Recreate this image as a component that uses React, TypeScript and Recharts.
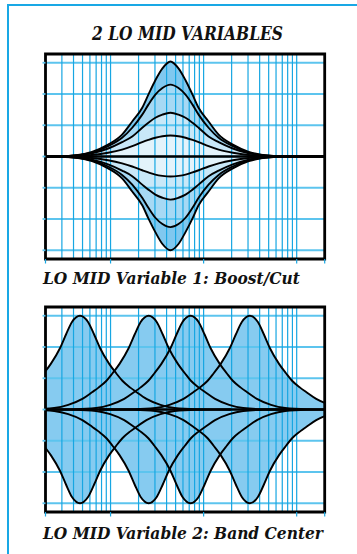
import React from 'react';
import { ComposedChart, Area, Line, XAxis, YAxis, CartesianGrid, ReferenceLine, ReferenceArea } from 'recharts';

// frequency grid (Hz), log axis
const FREQ_DOMAIN = [20, 20000];
const GRID_FREQS = [20, 30, 40, 50, 60, 70, 80, 90, 100, 200, 300, 400, 500, 600, 700, 800, 900, 1000,
  2000, 3000, 4000, 5000, 6000, 7000, 8000, 9000, 10000, 20000];
const MAJOR_FREQS = [20, 100, 1000, 10000, 20000];
const GAIN_TICKS = [-15, -10, -5, 0, 5, 10, 15];
const GAIN_DOMAIN = [-16.4, 16.4];

// chart 1: boost / cut around ~440 Hz
const BC_FREQS = [20, 28.5, 41.4, 63.2, 94.2, 133, 171, 219, 255, 303, 361, 440, 537, 639, 760, 883, 1130, 1450, 2060, 3060, 4670, 6780, 20000];
const BOOST_15 = [0, 0, 0.16, 0.75, 1.9, 3.5, 5.6, 7.8, 9.9, 12.2, 14.1, 15.2, 14.1, 12.2, 9.9, 7.8, 5.6, 3.5, 1.9, 0.75, 0.16, 0, 0];
const BOOST_11 = [0, 0.03, 0.15, 0.6, 1.65, 3.0, 4.6, 6.7, 8.3, 9.9, 10.95, 11.5, 10.95, 9.9, 8.3, 6.7, 4.6, 3.0, 1.65, 0.6, 0.15, 0.03, 0];
const BOOST_7 = [0, 0.03, 0.15, 0.5, 1.28, 2.3, 3.2, 4.6, 5.4, 6.2, 6.7, 7.0, 6.7, 6.2, 5.4, 4.6, 3.2, 2.3, 1.28, 0.5, 0.15, 0.03, 0];
const BOOST_3 = [0, 0.02, 0.08, 0.24, 0.6, 1.1, 1.65, 2.3, 2.65, 3.0, 3.25, 3.35, 3.25, 3.0, 2.65, 2.3, 1.65, 1.1, 0.6, 0.24, 0.08, 0.02, 0];
const CUT_3 = [0, -0.02, -0.08, -0.24, -0.6, -1.1, -1.6, -2.2, -2.55, -2.9, -3.1, -3.2, -3.1, -2.9, -2.55, -2.2, -1.6, -1.1, -0.6, -0.24, -0.08, -0.02, 0];
const CUT_7 = [0, -0.03, -0.15, -0.5, -1.26, -2.25, -3.15, -4.5, -5.3, -6.1, -6.6, -6.9, -6.6, -6.1, -5.3, -4.5, -3.15, -2.25, -1.26, -0.5, -0.15, -0.03, 0];
const CUT_11 = [0, -0.03, -0.15, -0.6, -1.6, -2.95, -4.5, -6.6, -8.2, -9.8, -10.8, -11.3, -10.8, -9.8, -8.2, -6.6, -4.5, -2.95, -1.6, -0.6, -0.15, -0.03, 0];
const CUT_15 = [0, 0, -0.16, -0.75, -1.9, -3.5, -5.6, -7.8, -9.9, -12.1, -14.0, -15.0, -14.0, -12.1, -9.9, -7.8, -5.6, -3.5, -1.9, -0.75, -0.16, 0, 0];

// chart 2: band centre sweep, same bell at four centres
const BAND_BOOST = [0, 0.05, 0.25, 0.75, 1.7, 2.8, 3.5, 4.6, 5.8, 7.3, 9.8, 12, 14, 15, 14, 12, 9.8, 7.3, 5.8, 4.6, 3.5, 2.8, 1.7, 0.75, 0.25, 0.05, 0];
const BAND_CUT = [0, -0.05, -0.25, -0.75, -1.7, -2.8, -3.5, -4.6, -5.8, -7.3, -9.8, -12, -14, -15, -14, -12, -9.8, -7.3, -5.8, -4.6, -3.5, -2.8, -1.7, -0.75, -0.25, -0.05, 0];
const BAND_FREQS_47 = [1.13, 2.69, 4.54, 6.42, 9.1, 11.7, 13.6, 16.5, 19.2, 22.8, 28.6, 33.2, 38.5, 47, 57.3, 66.6, 77.3, 96.7, 115, 134, 163, 189, 243, 344, 487, 822, 1960];
const BAND_FREQS_257 = [6.16, 14.7, 24.8, 35.1, 49.8, 63.8, 74.2, 90.4, 105, 124.9, 156.3, 181.5, 210.7, 257, 313.5, 364, 422.5, 529, 629, 730, 890.5, 1035, 1327, 1881, 2663, 4498, 10717];
const BAND_FREQS_724 = [17.4, 41.4, 69.9, 98.9, 140.2, 179.8, 209, 254.8, 295.9, 351.8, 440.4, 511.3, 593.4, 724, 883, 1025, 1190, 1490, 1772, 2058, 2509, 2915, 3738, 5298, 7501, 12670, 30190];
const BAND_FREQS_3140 = [75.3, 179.4, 303.1, 429.1, 608.2, 780, 906.2, 1104.8, 1283.2, 1525.8, 1910, 2217.5, 2573.8, 3140, 3831, 4446, 5162, 6462, 7684, 8924, 10880, 12642, 16212, 22979, 32530, 54950, 130940];

const zip = (fs: number[], gs: number[]) => fs.map((f, i) => ({ f, g: gs[i] }));

const GRID_V = '#17a6e2';
const GRID_H = '#5cc4ee';
const W = 357;
const H = 231;
const MARGIN = { top: 14, right: 32.3, bottom: 6, left: 41.5 };

const MajorTick = (props: any) => {
  const { x, y, payload } = props;
  if (!MAJOR_FREQS.includes(payload.value)) return <g />;
  return <line x1={x} x2={x} y1={y} y2={y + 4.5} stroke={GRID_V} strokeWidth={1.2} />;
};
const NoTick = () => <g />;

function axes(visible: boolean) {
  return [
    <XAxis key="x" dataKey="f" type="number" scale="log" domain={FREQ_DOMAIN} allowDataOverflow
      ticks={GRID_FREQS} interval={0} height={6} tickSize={0} tickMargin={0}
      axisLine={false} tickLine={false} tick={visible ? MajorTick : false} />,
    <YAxis key="y" type="number" domain={GAIN_DOMAIN} allowDataOverflow ticks={GAIN_TICKS} width={4}
      interval={0} tickSize={3} tickMargin={0} axisLine={false} tick={visible ? NoTick : false}
      tickLine={visible ? { stroke: GRID_H, strokeWidth: 1.8 } : false} />,
  ];
}

function Overlay({ curves }: { curves: { f: number; g: number }[][] }) {
  return (
    <ComposedChart width={W} height={H} margin={MARGIN}>
      {axes(true)}
      <CartesianGrid stroke={GRID_H} strokeWidth={1.8} vertical={false} />
      <CartesianGrid stroke={GRID_V} strokeWidth={1.2} horizontal={false} />
      <ReferenceLine y={0} stroke="#000" strokeWidth={2.7} />
      {curves.map((d, i) => (
        <Line key={i} data={d} dataKey="g" type="monotone" stroke="#000" strokeWidth={1.9}
          dot={false} isAnimationActive={false} />
      ))}
      <ReferenceArea x1={FREQ_DOMAIN[0]} x2={FREQ_DOMAIN[1]} y1={GAIN_DOMAIN[0]} y2={GAIN_DOMAIN[1]}
        fill="none" fillOpacity={0} stroke="#000" strokeWidth={2.8} />
    </ComposedChart>
  );
}

function Fills({ bands }: { bands: { d: { f: number; g: number }[]; c: string }[] }) {
  return (
    <ComposedChart width={W} height={H} margin={MARGIN}>
      {axes(false)}
      {bands.map((b, i) => (
        <Area key={i} data={b.d} dataKey="g" type="monotone" baseValue={0} stroke="none"
          fill={b.c} fillOpacity={1} isAnimationActive={false} />
      ))}
    </ComposedChart>
  );
}

const boostCut = [
  { d: zip(BC_FREQS, BOOST_15), c: '#80c8ef' },
  { d: zip(BC_FREQS, CUT_15), c: '#80c8ef' },
  { d: zip(BC_FREQS, BOOST_11), c: '#a6d9f4' },
  { d: zip(BC_FREQS, CUT_11), c: '#a6d9f4' },
  { d: zip(BC_FREQS, BOOST_7), c: '#c9e8f8' },
  { d: zip(BC_FREQS, CUT_7), c: '#c9e8f8' },
  { d: zip(BC_FREQS, BOOST_3), c: '#e3f3fb' },
  { d: zip(BC_FREQS, CUT_3), c: '#e3f3fb' },
];

const bandFreqs = [BAND_FREQS_47, BAND_FREQS_257, BAND_FREQS_724, BAND_FREQS_3140];
const bandCurves = bandFreqs.flatMap((fs) => [zip(fs, BAND_BOOST), zip(fs, BAND_CUT)]);

export default function App() {
  const font = "'DejaVu Serif', 'Liberation Serif', serif";
  return (
    <div style={{ position: 'absolute', left: 0, top: 0, width: 357, height: 554, overflow: 'hidden', background: '#fff' }}>
      <div style={{ position: 'absolute', left: 7.3, top: 4, width: 420, height: 620, border: '2.7px solid #19a8e5', boxSizing: 'border-box' }} />
      <div style={{ position: 'absolute', left: 0, top: 40 }}>
        <Fills bands={boostCut} />
      </div>
      <div style={{ position: 'absolute', left: 0, top: 40 }}>
        <Overlay curves={boostCut.map((b) => b.d)} />
      </div>
      <div style={{ position: 'absolute', left: 0, top: 292.5 }}>
        <Fills bands={bandCurves.map((d) => ({ d, c: '#86cbf0' }))} />
      </div>
      <div style={{ position: 'absolute', left: 0, top: 292.5 }}>
        <Overlay curves={bandCurves} />
      </div>
      <svg width={357} height={554} style={{ position: 'absolute', left: 0, top: 0 }}>
        <g fontFamily={font} fontWeight="bold" fontStyle="italic" fill="#111">
          <text x={92} y={40} fontSize={18} textLength={191} lengthAdjust="spacingAndGlyphs">2 LO MID VARIABLES</text>
          <text x={43} y={283.5} fontSize={17.5} textLength={257} lengthAdjust="spacingAndGlyphs">LO MID Variable 1: Boost/Cut</text>
          <text x={43} y={539} fontSize={17.5} textLength={280} lengthAdjust="spacingAndGlyphs">LO MID Variable 2: Band Center</text>
        </g>
      </svg>
    </div>
  );
}
